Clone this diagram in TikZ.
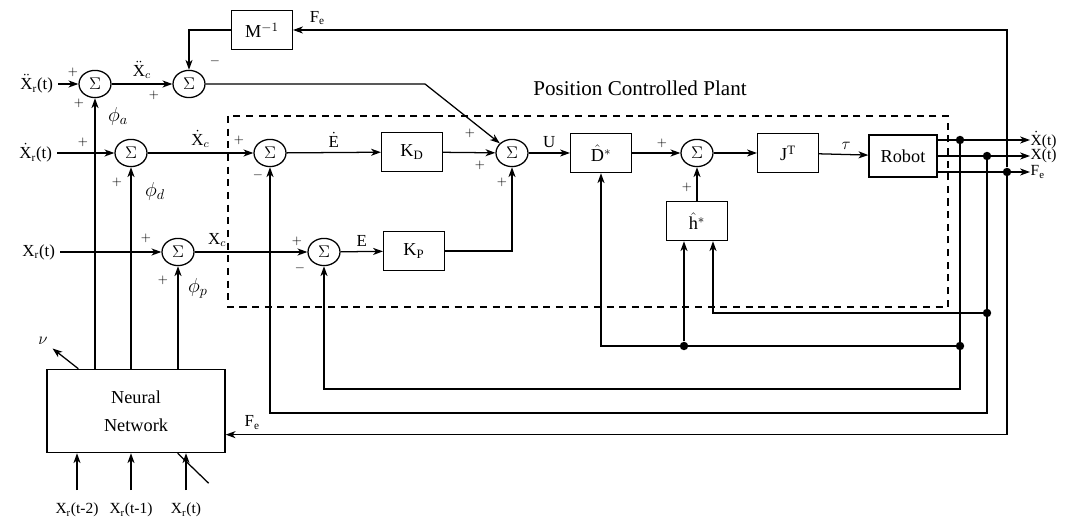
\documentclass[tikz,border=0pt]{standalone}
\usepackage{fontspec}
\setmainfont{Liberation Serif}
\usetikzlibrary{arrows.meta, positioning, shapes.geometric, calc}

\begin{document}
\begin{tikzpicture}[
    x=0.025cm, y=-0.025cm, >={Stealth[length=7pt, width=5pt, inset=2pt]},
    font=\fontsize{12}{14}\selectfont,
    sum/.style = {ellipse, draw, line width=0.9pt, minimum width=0.8cm, minimum height=0.68cm, inner sep=0pt},
    block/.style = {rectangle, draw, line width=0.9pt, minimum width=1.52cm, minimum height=0.98cm, inner sep=0pt, font=\fontsize{13}{15}\selectfont},
    arrow/.style = {draw, ->, line width=0.9pt},
    wire/.style = {draw, line width=0.9pt},
    dot/.style = {circle, fill, inner sep=0pt, minimum size=6pt},
    sign/.style = {inner sep=0pt, font=\small},
    outlabel/.style = {anchor=west, inner sep=0.3pt, font=\fontsize{11}{12}\selectfont},
    phase/.style = {font=\fontsize{14}{16}\selectfont},
    plant/.style = {draw, line width=0.9pt, dash pattern=on 5pt off 4pt}
]
    \useasboundingbox (0,0) rectangle (1068,523);

    % summing junctions
    \node [sum] (sa1) at (95,84) {$\Sigma$};
    \node [sum] (sa2) at (189,84) {$\Sigma$};
    \node [sum] (sd) at (131,153) {$\Sigma$};
    \node [sum] (sp) at (178,252) {$\Sigma$};
    \node [sum] (sv) at (270,153) {$\Sigma$};
    \node [sum] (se) at (324,252) {$\Sigma$};
    \node [sum] (su) at (512,153) {$\Sigma$};
    \node [sum] (sh) at (697,153) {$\Sigma$};

    % blocks
    \node [block] (minv) at (262,30) {M$^{-1}$};
    \node [block] (kd) at (412,152) {K$_\mathrm{D}$};
    \node [block] (kp) at (414,251) {K$_\mathrm{P}$};
    \node [block] (dhat) at (601,153) {$\hat{\mathrm{D}}^{*}$};
    \node [block] (jt) at (788,153) {J$^\mathrm{T}$};
    \node [block, minimum width=1.7cm, minimum height=1.05cm] (robot) at (903,156) {Robot};
    \node [block] (hhat) at (697,221) {$\hat{\mathrm{h}}^{*}$};
    \node [block, minimum width=4.45cm, minimum height=2.08cm, align=center] (nn) at (136,411) {Neural\\[5pt]Network};

    % plant boundary
    \draw [plant] (228,116) rectangle (948,307);
    \node [font=\fontsize{15}{18}\selectfont] (title) at (640,88) {Position Controlled Plant};

    % reference inputs
    \node [anchor=east] (ina) at (58,84) {$\ddot{\mathrm{X}}_\mathrm{r}$(t)};
    \node [anchor=east] (ind) at (57,153) {$\dot{\mathrm{X}}_\mathrm{r}$(t)};
    \node [anchor=east] (inp) at (60,252) {X$_\mathrm{r}$(t)};
    \draw [arrow] (ina) -- (sa1);
    \draw [arrow] (ind) -- (sd);
    \draw [arrow] (inp) -- (sp);
    \draw [arrow] (sa1) -- node [above] {$\ddot{\mathrm{X}}_c$} (sa2);
    \draw [arrow] (sd) -- node [above] {$\dot{\mathrm{X}}_c$} (sv);
    \draw [arrow] (sp) -- node [above, pos=0.2] {X$_c$} (se);

    % forward path
    \coordinate (bend) at (425,84);
    \draw [arrow] (minv) -| (sa2);
    \draw [arrow] (sa2) -- (bend) -- (su);
    \draw [arrow] (sv) -- node [above] {$\dot{\mathrm{E}}$} (kd);
    \draw [arrow] (kd) -- (su);
    \draw [arrow] (se) -- node [above] {E} (kp);
    \draw [arrow] (kp) -| (su);
    \draw [arrow] (su) -- node [above] {U} (dhat);
    \draw [arrow] (dhat) -- (sh);
    \draw [arrow] (hhat) -- (sh);
    \draw [arrow] (sh) -- (jt);
    \draw [arrow] (jt) -- node [above, pos=0.55] {$\tau$} (robot);

    % outputs
    \node [outlabel] (outv) at (1030,140) {$\dot{\mathrm{X}}$(t)};
    \node [outlabel] (outx) at (1030,156) {X(t)};
    \node [outlabel] (outf) at (1030,172) {F$_\mathrm{e}$};
    \draw [arrow] (robot.east |- outv) -- (outv);
    \draw [arrow] (robot.east |- outx) -- (outx);
    \draw [arrow] (robot.east |- outf) -- (outf);
    \node [dot] (dv) at (960,140) {};
    \node [dot] (dx) at (987,156) {};
    \node [dot] (df) at (1007,172) {};

    % feedback
    \coordinate (fenn) at ($(nn.south east)!0.22!(nn.north east)$);
    \draw [arrow] (df) |- node [pos=0.983, above] {F$_\mathrm{e}$} (minv);
    \draw [arrow] (df) |- node [pos=0.983, above] {F$_\mathrm{e}$} (fenn);
    \coordinate (cv) at (960,389);
    \coordinate (cx) at (987,413);
    \draw [arrow] (dv) -- (cv) -| (se);
    \draw [arrow] (dx) -- (cx) -| (sv);
    \node [dot] (dv2) at (960,346) {};
    \node [dot] (dx2) at (987,313) {};
    \node [dot] (dh) at (684,346) {};
    \draw [arrow] (dv2) -| (dhat);
    \draw [arrow] (dh) -- (dh |- hhat.south);
    \draw [arrow] (dx2) -| ([xshift=0.4cm]hhat.south);

    % neural network
    \draw [arrow] (nn.north -| sa1) -- (sa1);
    \draw [arrow] (nn.north -| sd) -- (sd);
    \draw [arrow] (nn.north -| sp) -- (sp);
    \node [phase] (phia) at (118,116) {$\phi_a$};
    \node [phase] (phid) at (155,191) {$\phi_d$};
    \node [phase] (phip) at (198,288) {$\phi_p$};
    \node (nu) at (43,341) {$\nu$};
    \draw [arrow] ([xshift=0.8cm]nn.north west) -- (nu);
    \node [font=\fontsize{11}{12}\selectfont] (xm2) at (77,510) {X$_\mathrm{r}$(t-2)};
    \node [font=\fontsize{11}{12}\selectfont] (xm1) at (131,510) {X$_\mathrm{r}$(t-1)};
    \node [font=\fontsize{11}{12}\selectfont] (xm0) at (186,510) {X$_\mathrm{r}$(t)};
    \draw [arrow] ([yshift=0.2cm]xm2.north) -- (xm2.north |- nn.south);
    \draw [arrow] ([yshift=0.2cm]xm1.north) -- (xm1.north |- nn.south);
    \draw [arrow] ([yshift=0.2cm]xm0.north) -- (xm0.north |- nn.south);
    \draw [wire] ([xshift=-1.2cm]nn.south east) -- ++(31,30);

    % signs
    \node [sign] (g1) at (73,72) {$+$};
    \node [sign] (g2) at (79,103) {$+$};
    \node [sign] (g3) at (215,61) {$-$};
    \node [sign] (g4) at (154,95) {$+$};
    \node [sign] (g5) at (83,142) {$+$};
    \node [sign] (g6) at (117,182) {$+$};
    \node [sign] (g7) at (146,238) {$+$};
    \node [sign] (g8) at (163,280) {$+$};
    \node [sign] (g9) at (239,140) {$+$};
    \node [sign] (g10) at (258,175) {$-$};
    \node [sign] (g11) at (297,241) {$+$};
    \node [sign] (g12) at (300,268) {$-$};
    \node [sign] (g13) at (470,133) {$+$};
    \node [sign] (g14) at (480,165) {$+$};
    \node [sign] (g15) at (502,182) {$+$};
    \node [sign] (g16) at (662,143) {$+$};
    \node [sign] (g17) at (687,187) {$+$};
\end{tikzpicture}
\end{document}
